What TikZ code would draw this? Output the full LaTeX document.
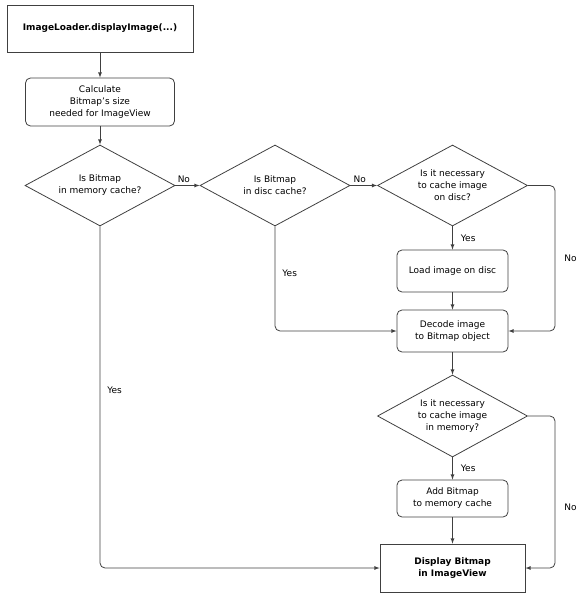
\documentclass[tikz,border=0pt]{standalone}
\usepackage{fontspec}
\setmainfont{DejaVu Sans}
\usetikzlibrary{shapes.geometric, positioning}

\begin{document}
\begin{tikzpicture}[
   x=1pt, y=-1pt,
   font=\fontsize{9}{12}\selectfont,
   every node/.style={align=center},
   startbox/.style={
     draw=black!75,
     line width=.8pt,
     minimum width=186pt,
     minimum height=47pt,
     font=\fontsize{9}{12}\selectfont\bfseries,
    },
   endbox/.style={
     startbox,
     minimum width=145pt,
     minimum height=48pt,
    },
   procbox/.style={
     draw=black!75,
     line width=.8pt,
     rounded corners=5pt,
     minimum width=111pt,
     minimum height=42pt,
    },
   decision/.style={
     diamond,
     aspect=1.85,
     draw=black!75,
     line width=.8pt,
     inner sep=0pt,
     minimum width=150pt,
     minimum height=81pt,
    },
   lbl/.style={
     inner sep=2pt,
    },
   flow/.style={
     -latex,
     draw=black!75,
     line width=.8pt,
     rounded corners=5pt,
    },
  ]

\useasboundingbox (0,0) rectangle (587,599);

\node[startbox] (start) at (100,28.5) {ImageLoader.displayImage(...)};
\node[procbox, minimum width=149pt, minimum height=48pt] (calc) at (100,102)
  {Calculate\\Bitmap's size\\needed for ImageView};
\node[decision] (memq) at (100,185.5) {Is Bitmap\\in memory cache?};
\node[decision] (discq) at (275,185.5) {Is Bitmap\\in disc cache?};
\node[decision] (savediscq) at (452.5,185.5) {Is it necessary\\to cache image\\on disc?};
\node[procbox] (loadimg) at (452.5,271) {Load image on disc};
\node[procbox] (decode) at (452.5,331) {Decode image\\to Bitmap object};
\node[decision, minimum height=82pt] (savememq) at (452.5,416) {Is it necessary\\to cache image\\in memory?};
\node[procbox, minimum height=37pt] (addbmp) at (452.5,498.5) {Add Bitmap\\to memory cache};
\node[endbox] (display) at (452.5,568) {Display Bitmap\\in ImageView};
\coordinate (rside) at (555,0);

\draw[flow] (start) -- (calc);
\draw[flow] (calc) -- (memq);
\draw[flow] (memq.east) -- node[lbl, above, pos=.35] {No} (discq.west);
\draw[flow] (discq.east) -- node[lbl, above, pos=.35] {No} (savediscq.west);
\draw[flow] (savediscq) -- node[lbl, right=6pt] {Yes} (loadimg);
\draw[flow] (loadimg) -- (decode);
\draw[flow] (savediscq.east) -| node[lbl, right=7pt, pos=.75] {No} (rside |- decode.east) -- (decode.east);
\draw[flow] (discq.south) -- node[lbl, right=5pt, pos=.45] {Yes} (discq.south |- decode.west) -- (decode.west);
\draw[flow] (decode) -- (savememq);
\draw[flow] (savememq) -- node[lbl, right=6pt] {Yes} (addbmp);
\draw[flow] (addbmp) -- (display);
\draw[flow] (savememq.east) -| node[lbl, right=7pt, pos=.8] {No} (rside |- display.east) -- (display.east);
\draw[flow] (memq.south) -- node[lbl, right=5pt, pos=.48] {Yes} (memq.south |- display.west) -- (display.west);
\end{tikzpicture}
\end{document}
